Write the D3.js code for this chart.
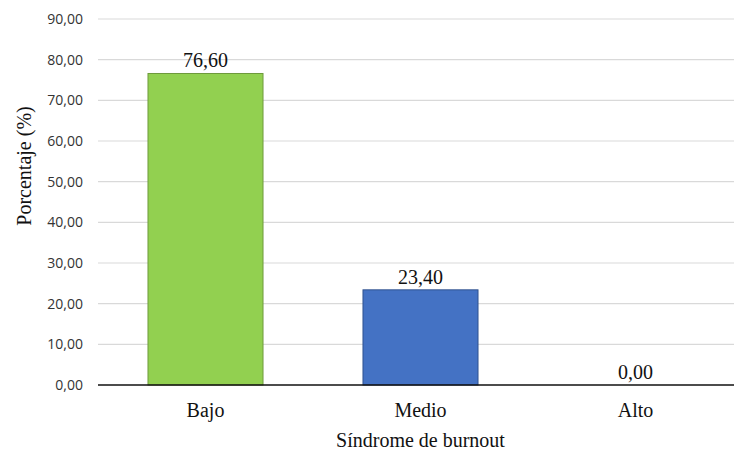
<!DOCTYPE html>
<html><head><meta charset="utf-8">
<script src="https://cdn.jsdelivr.net/npm/d3@7"></script>
<style>body{margin:0;background:#fff}svg{display:block}</style>
</head><body>
<script>
const categories = ["Bajo", "Medio", "Alto"];
const values = [76.60, 23.40, 0.00];
const yTicks = [0, 10, 20, 30, 40, 50, 60, 70, 80, 90];
const colors = ["#92D050", "#4472C4", "#A5A5A5"];
const strokes = ["#6E9A3C", "#2F528F", "#7F7F7F"];

const W = 734, H = 454;
const m = {left: 98, top: 19, bottom: 385};
const serif = "'Liberation Serif', 'Times New Roman', serif";
const svg = d3.select("body").append("svg").attr("width", W).attr("height", H);
const x = d3.scaleBand().domain(categories).range([m.left, m.left + 645]).paddingInner(0.465).paddingOuter(0.2325);
const y = d3.scaleLinear().domain([0, 90]).range([m.bottom, m.top]);
const fmt = v => d3.format(".2f")(v).replace(".", ",");

// grid
svg.append("g").selectAll("line").data(yTicks.filter(t => t > 0)).join("line")
  .attr("x1", m.left).attr("x2", W).attr("y1", d => y(d)).attr("y2", d => y(d))
  .attr("stroke", "#D9D9D9").attr("stroke-width", 1.2);

// y axis labels
const ya = svg.append("g").attr("transform", `translate(${m.left},0)`)
  .call(d3.axisLeft(y).tickValues(yTicks).tickFormat(fmt).tickSize(0).tickPadding(15));
ya.select(".domain").remove();
ya.selectAll("text").style("font-family", "'Open Sans', sans-serif").style("font-size", "14px").attr("fill", "#333");

// bars
svg.append("g").selectAll("rect").data(values).join("rect")
  .attr("x", (d, i) => x(categories[i])).attr("width", x.bandwidth())
  .attr("y", d => y(d)).attr("height", d => y(0) - y(d))
  .attr("fill", (d, i) => colors[i]).attr("stroke", (d, i) => strokes[i]).attr("stroke-width", 1);

// value labels
svg.append("g").selectAll("text").data(values).join("text")
  .attr("x", (d, i) => x(categories[i]) + x.bandwidth() / 2).attr("y", d => y(d) - 6)
  .attr("text-anchor", "middle").style("font-family", serif).style("font-size", "20px")
  .attr("fill", "#111").text(fmt);

// x axis
const xa = svg.append("g").attr("transform", `translate(0,${m.bottom})`)
  .call(d3.axisBottom(x).tickSize(0).tickPadding(0));
xa.select(".domain").remove();
xa.selectAll("text").attr("dy", null).attr("y", 32)
  .style("font-family", serif).style("font-size", "20px").attr("fill", "#111");
svg.append("line").attr("x1", m.left).attr("x2", W).attr("y1", y(0)).attr("y2", y(0)).attr("stroke", "#111").attr("stroke-width", 1.5);

// axis titles
svg.append("text").attr("x", x("Medio") + x.bandwidth() / 2).attr("y", 447).attr("text-anchor", "middle")
  .style("font-family", serif).style("font-size", "20px").attr("fill", "#111").text("Síndrome de burnout");
svg.append("text").attr("transform", `translate(31,166) rotate(-90)`).attr("text-anchor", "middle")
  .style("font-family", serif).style("font-size", "20px").attr("fill", "#111").text("Porcentaje (%)");
</script>
</body></html>
